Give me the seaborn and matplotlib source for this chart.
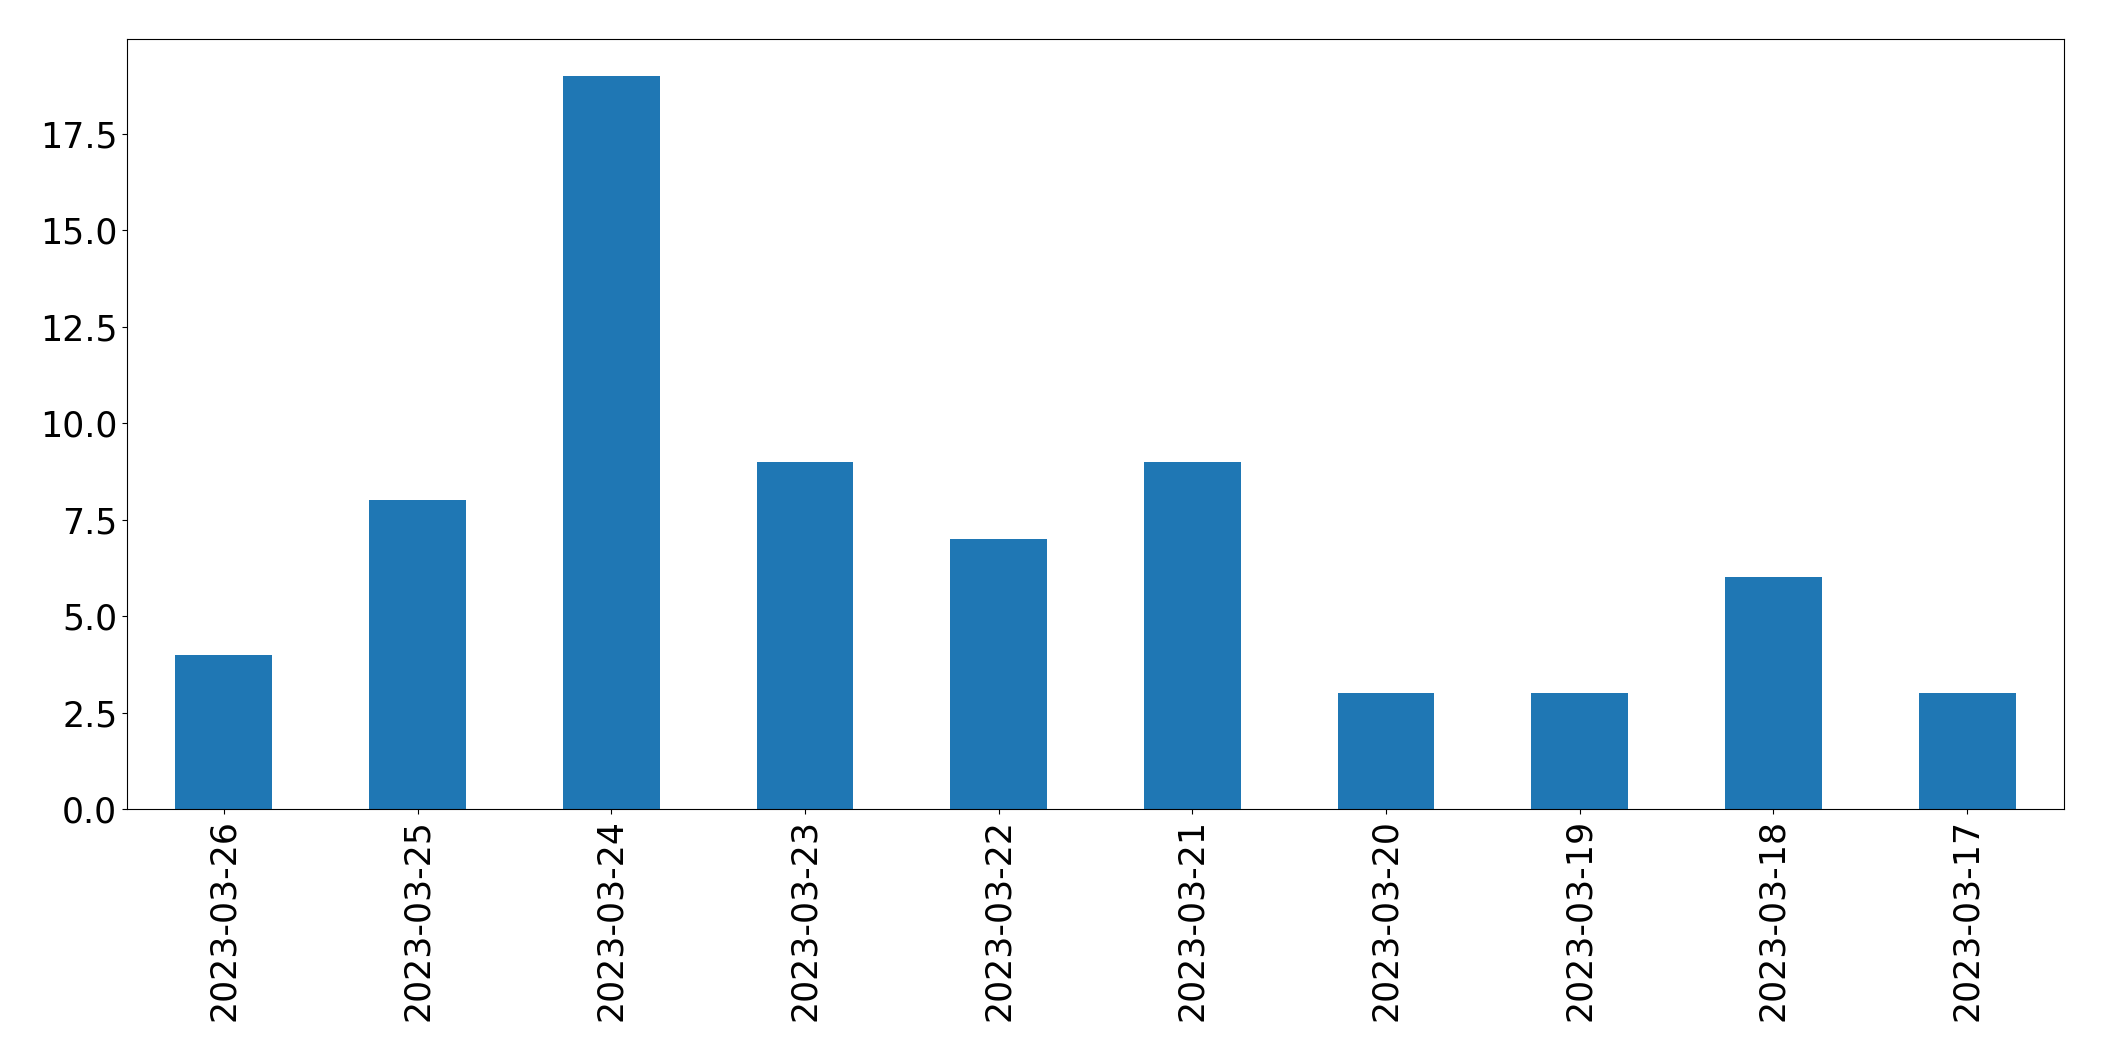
import matplotlib
matplotlib.use("Agg")
import matplotlib.pyplot as plt
import seaborn as sns
import pandas as pd

dates = ['2023-03-26', '2023-03-25', '2023-03-24', '2023-03-23', '2023-03-22',
         '2023-03-21', '2023-03-20', '2023-03-19', '2023-03-18', '2023-03-17']
counts = [4, 8, 19, 9, 7, 9, 3, 3, 6, 3]

df = pd.DataFrame({'date': dates, 'count': counts})

fig = plt.figure(figsize=(21.04, 10.61), dpi=100)
ax = fig.add_axes([127 / 2104, 1 - 809 / 1061, (2064 - 127) / 2104, (809 - 39) / 1061])

sns.barplot(ax=ax, data=df, x='date', y='count', order=dates,
            color='#1f77b4', saturation=1, width=0.5)

ax.set_xlim(-0.5, len(dates) - 0.5)
ax.set_ylim(0, max(counts) * 1.05)
ax.set_xlabel('')
ax.set_ylabel('')
ax.tick_params(axis='both', labelsize=25)
ax.tick_params(axis='x', labelrotation=90)
for s in ax.spines.values():
    s.set_visible(True)
    s.set_color('black')

fig.savefig('out.png', dpi=100)
